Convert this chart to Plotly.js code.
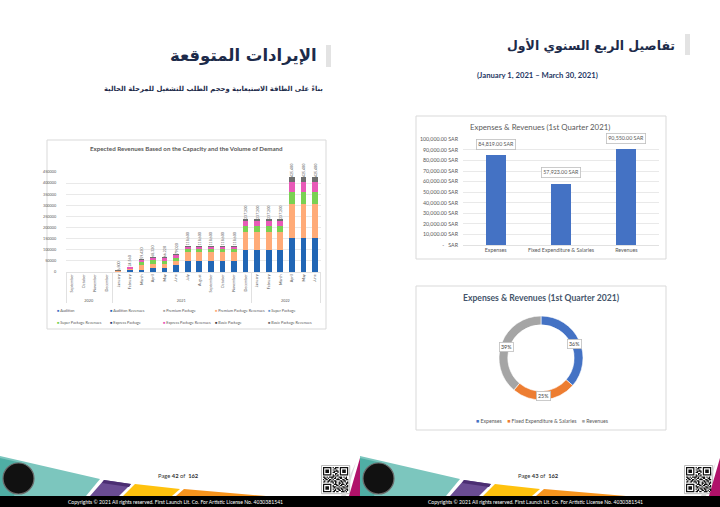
<!DOCTYPE html>
<html><head><meta charset="utf-8">
<script src="https://cdn.plot.ly/plotly-3.0.1.min.js"></script>
<style>html,body{margin:0;padding:0;background:#fff}#chart{width:720px;height:507px}</style>
</head><body><div id="chart"></div>
<script>
// ===== Data: expected revenues (stacked) =====
const years = ['2020','2020','2020','2020',
  '2021','2021','2021','2021','2021','2021','2021','2021','2021','2021','2021','2021',
  '2022','2022','2022','2022','2022','2022'];
// (a zero-width space keeps the 2021 Sep–Dec labels distinct from the 2020 ones)
const months = ['September','October','November','December',
  'January','February','March','April','May','June','July','August','September\u200b','October\u200b','November\u200b','December\u200b',
  'January','February','March','April','May','June'];
const seriesNames = ['Audition','Audition Revenues','Premium Package','Premium Package Revenues',
  'Super Package','Super Package Revenues','Express Package','Express Package Revenues','Basic Package','Basic Package Revenues'];
const auditionCount    = [0,0,0,0, 20,80,100,200,200,300,500,500,500,500,500,1000,1000,1000,1000,1500,1500,1500];
const auditionRevenues = [0,0,0,0, 2000,8000,10000,20000,20000,30000,50000,50000,50000,50000,50000,100000,100000,100000,100000,150000,150000,150000];
const premiumCount     = [0,0,0,0, 1,2,10,9,9,10,20,20,20,20,20,39,39,39,39,78,78,78];
const premiumRevenues  = [0,0,0,0, 1000,4000,20000,18000,18000,20000,39000,39000,39000,39000,39000,78000,78000,78000,78000,156000,156000,156000];
const superCount       = [0,0,0,0, 1,3,14,14,12,14,14,14,14,14,14,27,27,27,27,54,54,54];
const superRevenues    = [0,0,0,0, 800,3000,14000,14000,12000,14000,14000,14000,14000,14000,14000,27000,27000,27000,27000,54000,54000,54000];
const expressCount     = [0,0,0,0, 4,14,20,22,22,20,22,22,22,22,22,45,45,45,45,90,90,90];
const expressRevenues  = [0,0,0,0, 2000,7000,10000,11000,11000,10000,11000,11000,11000,11000,11000,22500,22500,22500,22500,45000,45000,45000];
const basicCount       = [0,0,0,0, 5,13,27,27,26,25,23,23,23,23,23,49,49,49,49,102,102,102];
const basicRevenues    = [0,0,0,0, 1000,2560,5420,5320,5220,5020,4600,4600,4600,4600,4600,9700,9700,9700,9700,20400,20400,20400];
const totalLabels = ['','','','', '6,800','24,560','59,420','68,320','66,220','79,020',
  '118,600','118,600','118,600','118,600','118,600','237,200','237,200','237,200','237,200','425,400','425,400','425,400'];
const stackedYTicks = [0,50000,100000,150000,200000,250000,300000,350000,400000,450000];

// ===== Data: 1st quarter 2021 =====
const qCategories = ['Expenses','Fixed Expenditure & Salaries','Revenues'];
const qValues = [84819, 57923, 90550];
const qValueLabels = ['84,819.00 SAR','57,923.00 SAR','90,550.00 SAR'];
const qTickVals = [0,10000,20000,30000,40000,50000,60000,70000,80000,90000,100000];
const qTickText = [' -   SAR','10,000.00 SAR','20,000.00 SAR','30,000.00 SAR','40,000.00 SAR','50,000.00 SAR',
  '60,000.00 SAR','70,000.00 SAR','80,000.00 SAR','90,000.00 SAR','100,000.00 SAR'];

// ===== styling =====
const seriesColors = ['#4472C4','#2166B5','#A5A5A5','#FFAB78','#5B9BD5','#79D152','#264478','#E85AB8','#3F3F3F','#6E6E6E'];
const pieColors = ['#4472C4','#ED7D31','#A5A5A5'];
const seriesData = [auditionCount,auditionRevenues,premiumCount,premiumRevenues,superCount,superRevenues,expressCount,expressRevenues,basicCount,basicRevenues];
const W = 720, H = 507;
const X = p => p / W, Y = p => 1 - p / H;
const FONT = 'Lato, "Open Sans", sans-serif';
const AR = '"DejaVu Sans", "Noto Sans", sans-serif';
const GRID = '#E4E4E4', TXT = '#595959';

const traces = [];
seriesNames.forEach((n, i) => {
  const last = i === seriesNames.length - 1;
  traces.push({
    type: 'bar', name: n, x: [years, months], y: seriesData[i], xaxis: 'x', yaxis: 'y',
    marker: {color: seriesColors[i]},
    text: last ? totalLabels : undefined,
    textposition: last ? 'outside' : 'none', textangle: -90, cliponaxis: false, constraintext: 'none',
    textfont: {size: 3.6, color: TXT, family: FONT}, hoverinfo: 'skip'
  });
});
traces.push({
  type: 'bar', x: qCategories, y: qValues, xaxis: 'x2', yaxis: 'y2', width: 0.31,
  marker: {color: '#4472C4'}, hoverinfo: 'skip'
});
const pieBox = {x0: 499, x1: 583, y0: 316, y1: 400};
traces.push({
  type: 'pie', labels: qCategories, values: qValues, hole: 0.79, sort: false, direction: 'clockwise',
  domain: {x: [X(pieBox.x0), X(pieBox.x1)], y: [Y(pieBox.y1), Y(pieBox.y0)]},
  marker: {colors: pieColors, line: {color: '#ffffff', width: 0.6}},
  textinfo: 'none', hoverinfo: 'skip'
});

// ===== shapes =====
const shapes = [];
const rect = (x0,y0,x1,y1,fill,line) => shapes.push({type:'rect',xref:'paper',yref:'paper',x0:X(x0),x1:X(x1),y0:Y(y1),y1:Y(y0),
  fillcolor: fill || 'rgba(0,0,0,0)', line: {color: line || 'rgba(0,0,0,0)', width: line ? 1 : 0}, layer: 'below'});
const poly = (pts, fill, layer) => shapes.push({type:'path',xref:'paper',yref:'paper',
  path: 'M' + pts.map(p => X(p[0]).toFixed(5) + ',' + Y(p[1]).toFixed(5)).join('L') + 'Z',
  fillcolor: fill, line: {width: 0}, layer: layer || 'above'});

// chart frames
rect(47,140,326,329,null,'#D9D9D9');
rect(416,116,666,259,null,'#D9D9D9');
rect(416,286,666,430,null,'#D9D9D9');
// title side bars
rect(685,34,690,55,'#E3E3E3');
rect(326,45,331,67,'#E3E3E3');

// footer (two pages)
[0, 360].forEach(o => {
  const P = pts => pts.map(p => [p[0] + o, p[1]]);
  poly(P([[0,456],[100,479],[86,496],[0,496]]), '#7CC6BE');
  poly(P([[0,458],[26,464],[14,496],[0,496]]), '#4FAEA4');
  poly(P([[104,480],[131,484],[119,496],[90,496]]), '#6A4C93');
  poly(P([[104,480],[131,484],[129,487],[102,483]]), '#4B2E72');
  poly(P([[135,484],[180,489],[172,496],[123,496]]), '#FFC20E');
  poly(P([[184,489],[266,496],[176,496]]), '#F7941D');
  poly(P([[360,458],[360,496],[349,496]]), '#B0126A');
  poly(P([[356,462],[346,496],[341,496]]), '#DADADA');
  shapes.push({type:'circle',xref:'paper',yref:'paper',x0:X(o+3),x1:X(o+34),y0:Y(494),y1:Y(463),
    fillcolor:'#111',line:{color:'#6b6b6b',width:1.2}});
  rect(o+14,470,o+22,479,'#E9E4F0');
  rect(o+15,472,o+18,478,'#E85AB8');
  rect(o+18,472,o+21,478,'#FFC20E');
  rect(o+12,482,o+24,484,'#cccccc');
});
rect(0,496,720,507,'#000000');
shapes.forEach(s => { if (s.fillcolor === '#000000') s.layer = 'above'; });

// QR-like codes
const qr = [
'111111101011101111111','100000100110001000001','101110101001001011101','101110100111101011101',
'101110101100101011101','100000100011001000001','111111101010101111111','000000001101100000000',
'110101111010011101010','011010010110101100110','101101101001110011011','010011010110001101100',
'110110111011010110101','000000001010011010011','111111100111010111010','100000101001101100101',
'101110101110010011011','101110100101101101100','101110101010110110011','100000100110011010101',
'111111101101100111010'];
[323, 686].forEach(qx => {
  const qy = 467, m = 1.2;
  rect(qx-1.5, qy-1.5, qx + 21*m + 1.5, qy + 21*m + 1.5, '#ffffff', '#bbbbbb');
  let d = '';
  qr.forEach((row, r) => row.split('').forEach((c, k) => {
    if (c === '1') {
      const a = X(qx + k*m), b = X(qx + (k+1)*m), t = Y(qy + r*m), u = Y(qy + (r+1)*m);
      d += `M${a},${t}L${b},${t}L${b},${u}L${a},${u}Z`;
    }
  }));
  shapes.push({type:'path',xref:'paper',yref:'paper',path:d,fillcolor:'#111',line:{width:0}});
});

// ===== annotations =====
const ann = [];
const note = (x, y, text, size, color, opts) => ann.push(Object.assign({xref:'paper',yref:'paper',x:X(x),y:Y(y),text,
  showarrow:false,font:{size,color,family:FONT},xanchor:'center',yanchor:'middle'}, opts || {}));

note(677, 45, '<b>تفاصيل الربع السنوي الأول</b>', 12.5, '#1D2B4A', {xanchor:'right', font:{size:12.5,color:'#1D2B4A',family:AR}});
note(537, 75, '<b>(January 1, 2021 – March 30, 2021)</b>', 7.7, '#1F3864');
note(319, 56, '<b>الإيرادات المتوقعة</b>', 16.5, '#1D2B4A', {xanchor:'right', font:{size:16.5,color:'#1D2B4A',family:AR}});
note(325, 89, '<b>بناءً على الطاقة الاستيعابية وحجم الطلب للتشغيل للمرحلة الحالية</b>', 6.8, '#1D2B4A', {xanchor:'right', font:{size:6.8,color:'#1D2B4A',family:AR}});

note(186, 148.5, '<b>Expected Revenues Based on the Capacity and the Volume of Demand</b>', 6.2, TXT);
note(540, 127, 'Expenses & Revenues (1st Quarter 2021)', 7.8, TXT);
note(541, 298, '<b>Expenses & Revenues (1st Quarter 2021)</b>', 8.6, '#44546A');

// stacked legend
const legX = [55, 108, 161, 213, 266], legY = [310, 322];
seriesNames.forEach((n, i) => {
  note(legX[i % 5], legY[Math.floor(i / 5)], `<span style="color:${seriesColors[i]}">■</span> ${n}`, 3.8, TXT, {xanchor:'left'});
});
// donut legend
note(542, 421, qCategories.map((c, i) => `<span style="color:${pieColors[i]}">■</span> ${c}`).join('&nbsp;&nbsp;&nbsp;&nbsp;'), 5.2, TXT);

// donut percentage callouts, placed at the middle of each slice (computed from the values)
(() => {
  const total = qValues.reduce((a, b) => a + b, 0);
  const cx = (pieBox.x0 + pieBox.x1) / 2, cy = (pieBox.y0 + pieBox.y1) / 2;
  const rMid = (pieBox.x1 - pieBox.x0) / 2 * 0.88;
  let cum = 0;
  qValues.forEach(v => {
    const a = 2 * Math.PI * (cum + v / 2) / total;
    cum += v;
    note(cx + rMid * Math.sin(a), cy - rMid * Math.cos(a) + 1.5, Math.round(100 * v / total) + '%', 5.3, '#404040',
      {bgcolor:'#ffffff', bordercolor:'#BFBFBF', borderwidth:0.8, borderpad:1.2});
  });
})();

// value callouts on quarter bars
qCategories.forEach((c, i) => ann.push({xref:'x2', yref:'y2', x:c, y:qValues[i], yshift:11, text:qValueLabels[i], showarrow:false,
  font:{size:5.3,color:TXT,family:FONT}, bgcolor:'#ffffff', bordercolor:'#BFBFBF', borderwidth:0.8, borderpad:1.5}));

// footer texts
[0, 360].forEach(o => {
  note(o + 178, 475, 'Page <b>' + (o ? 43 : 42) + '</b> of  <b>162</b>', 5.8, '#333333');
  note(o + 175, 502, 'Copyrights © 2021 All rights reserved. First Launch Lit. Co. For Artistic License No. 4030381541', 5.1, '#ffffff');
});

const layout = {
  width: W, height: H, margin: {l:0, r:0, t:0, b:0}, paper_bgcolor: '#ffffff', plot_bgcolor: 'rgba(0,0,0,0)',
  showlegend: false, barmode: 'stack', bargap: 0.5, font: {family: FONT, color: TXT},
  xaxis: {type:'multicategory', domain:[X(66.2), X(320.8)], anchor:'y', tickangle:-90, tickfont:{size:3.8,color:TXT},
    showgrid:false, showline:true, linecolor:'#D9D9D9', linewidth:0.8, ticks:'', showdividers:true, dividercolor:'#D9D9D9', dividerwidth:0.8},
  yaxis: {domain:[Y(272), Y(172)], anchor:'x', range:[0,450000], tickvals: stackedYTicks, tickformat:'d', tickfont:{size:3.8,color:TXT},
    gridcolor:GRID, gridwidth:0.8, zeroline:false, showline:false, ticklabelstandoff:9},
  xaxis2: {domain:[X(463), X(659)], anchor:'y2', tickfont:{size:5.3,color:TXT}, showgrid:false, showline:true,
    linecolor:'#D9D9D9', linewidth:0.8, ticks:''},
  yaxis2: {domain:[Y(245), Y(139.3)], anchor:'x2', range:[0,100000], tickvals:qTickVals, ticktext:qTickText, tickfont:{size:5.3,color:TXT},
    gridcolor:GRID, gridwidth:0.8, zeroline:false, showline:false, ticklabelstandoff:4},
  shapes: shapes, annotations: ann
};
Plotly.newPlot('chart', traces, layout, {staticPlot:true, displayModeBar:false});
</script></body></html>
